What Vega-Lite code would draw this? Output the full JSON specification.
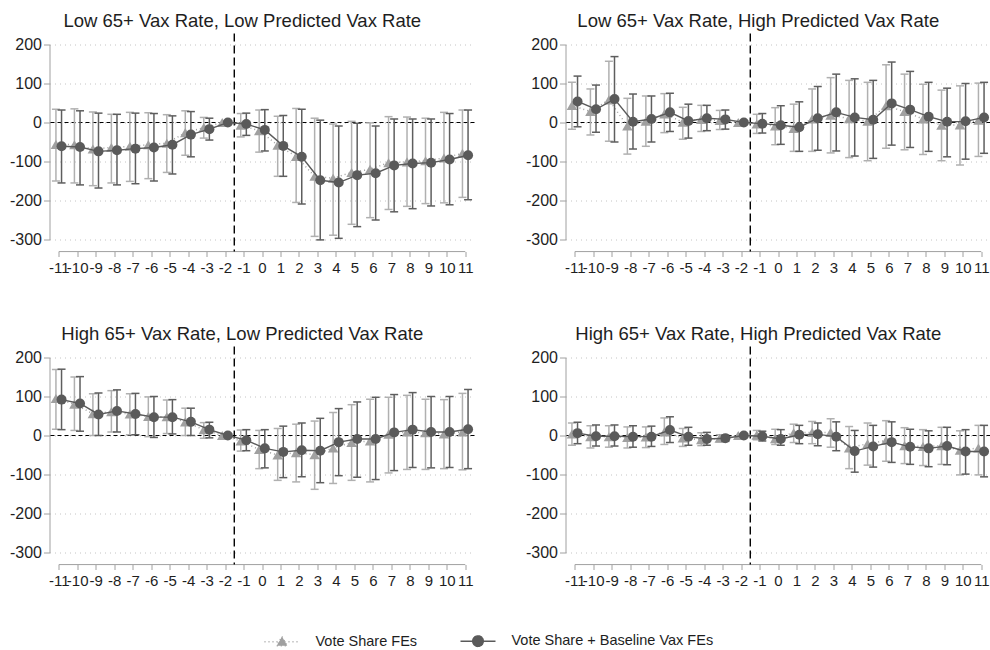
{
"$schema": "https://vega.github.io/schema/vega-lite/v6.json",
"padding": {"left": 8.5, "top": 11.5, "right": 0, "bottom": 0},
"config": {
 "locale": {"number": {"decimal": ".", "thousands": ",", "grouping": [3], "currency": ["$", ""], "minus": "-"}},
 "font": "Liberation Sans",
 "view": {"stroke": null},
 "axis": {"title": null, "labelFont": "Liberation Sans", "labelColor": "#1e1e1e", "domainColor": "#a0a0a0", "tickColor": "#a0a0a0", "domainWidth": 1, "tickWidth": 1, "labelOverlap": false},
 "axisY": {"grid": true, "gridDash": [1, 4], "gridColor": "#c4c4c4", "tickSize": 6, "labelPadding": 2, "labelFontSize": 16, "labelOverlap": false},
 "axisX": {"domain": false, "offset": 12, "tickSize": 5, "labelPadding": 3.5, "grid": false, "labelFontSize": 15, "labelOverlap": false, "labelFlush": false},
 "legend": {"orient": "none", "legendX": 214, "legendY": 578, "direction": "horizontal", "symbolSize": 1225, "labelLimit": 400, "labelFont": "Liberation Sans", "labelFontSize": 14.5, "labelColor": "#1e1e1e", "columnPadding": 40, "labelOffset": 15, "symbolStrokeWidth": 1.5, "symbolOpacity": 1},
 "title": {"fontSize": 18.5, "fontWeight": "normal", "color": "#1e1e1e", "font": "Liberation Sans", "frame": "bounds", "anchor": "middle", "offset": 2}
},
"datasets": {"d": [
{"p":1,"s":"B","t":-11,"e":-61,"lo":-155,"hi":32},{"p":1,"s":"B","t":-10,"e":-63,"lo":-160,"hi":30},{"p":1,"s":"B","t":-9,"e":-74,"lo":-168,"hi":24},{"p":1,"s":"B","t":-8,"e":-71,"lo":-160,"hi":21},{"p":1,"s":"B","t":-7,"e":-67,"lo":-157,"hi":24},{"p":1,"s":"B","t":-6,"e":-64,"lo":-150,"hi":23},{"p":1,"s":"B","t":-5,"e":-57,"lo":-132,"hi":17},{"p":1,"s":"B","t":-4,"e":-31,"lo":-88,"hi":28},{"p":1,"s":"B","t":-3,"e":-17,"lo":-45,"hi":11},{"p":1,"s":"B","t":-2,"e":0},{"p":1,"s":"B","t":-1,"e":-4,"lo":-33,"hi":24},{"p":1,"s":"B","t":0,"e":-19,"lo":-73,"hi":33},{"p":1,"s":"B","t":1,"e":-60,"lo":-138,"hi":18},{"p":1,"s":"B","t":2,"e":-88,"lo":-209,"hi":34},{"p":1,"s":"B","t":3,"e":-148,"lo":-301,"hi":6},{"p":1,"s":"B","t":4,"e":-154,"lo":-297,"hi":-9},{"p":1,"s":"B","t":5,"e":-135,"lo":-267,"hi":-2},{"p":1,"s":"B","t":6,"e":-130,"lo":-250,"hi":-9},{"p":1,"s":"B","t":7,"e":-110,"lo":-229,"hi":9},{"p":1,"s":"B","t":8,"e":-105,"lo":-221,"hi":9},{"p":1,"s":"B","t":9,"e":-103,"lo":-214,"hi":9},{"p":1,"s":"B","t":10,"e":-95,"lo":-211,"hi":23},{"p":1,"s":"B","t":11,"e":-84,"lo":-198,"hi":32},
{"p":1,"s":"A","t":-11,"e":-56,"lo":-150,"hi":34},{"p":1,"s":"A","t":-10,"e":-57,"lo":-155,"hi":35},{"p":1,"s":"A","t":-9,"e":-68,"lo":-162,"hi":27},{"p":1,"s":"A","t":-8,"e":-64,"lo":-155,"hi":21},{"p":1,"s":"A","t":-7,"e":-61,"lo":-151,"hi":26},{"p":1,"s":"A","t":-6,"e":-57,"lo":-144,"hi":25},{"p":1,"s":"A","t":-5,"e":-53,"lo":-128,"hi":20},{"p":1,"s":"A","t":-4,"e":-26,"lo":-84,"hi":30},{"p":1,"s":"A","t":-3,"e":-13,"lo":-40,"hi":13},{"p":1,"s":"A","t":-2,"e":0},{"p":1,"s":"A","t":-1,"e":-7,"lo":-37,"hi":23},{"p":1,"s":"A","t":0,"e":-21,"lo":-76,"hi":32},{"p":1,"s":"A","t":1,"e":-58,"lo":-138,"hi":16},{"p":1,"s":"A","t":2,"e":-87,"lo":-205,"hi":36},{"p":1,"s":"A","t":3,"e":-138,"lo":-292,"hi":11},{"p":1,"s":"A","t":4,"e":-143,"lo":-289,"hi":-4},{"p":1,"s":"A","t":5,"e":-128,"lo":-261,"hi":3},{"p":1,"s":"A","t":6,"e":-120,"lo":-244,"hi":-1},{"p":1,"s":"A","t":7,"e":-103,"lo":-223,"hi":15},{"p":1,"s":"A","t":8,"e":-101,"lo":-215,"hi":14},{"p":1,"s":"A","t":9,"e":-98,"lo":-208,"hi":11},{"p":1,"s":"A","t":10,"e":-91,"lo":-206,"hi":26},{"p":1,"s":"A","t":11,"e":-79,"lo":-192,"hi":32},
{"p":2,"s":"B","t":-11,"e":54,"lo":-11,"hi":119},{"p":2,"s":"B","t":-10,"e":34,"lo":-25,"hi":96},{"p":2,"s":"B","t":-9,"e":60,"lo":-50,"hi":169},{"p":2,"s":"B","t":-8,"e":2,"lo":-68,"hi":73},{"p":2,"s":"B","t":-7,"e":9,"lo":-50,"hi":68},{"p":2,"s":"B","t":-6,"e":26,"lo":-23,"hi":75},{"p":2,"s":"B","t":-5,"e":4,"lo":-40,"hi":47},{"p":2,"s":"B","t":-4,"e":11,"lo":-21,"hi":44},{"p":2,"s":"B","t":-3,"e":8,"lo":-17,"hi":32},{"p":2,"s":"B","t":-2,"e":0},{"p":2,"s":"B","t":-1,"e":-3,"lo":-27,"hi":23},{"p":2,"s":"B","t":0,"e":-7,"lo":-56,"hi":43},{"p":2,"s":"B","t":1,"e":-12,"lo":-74,"hi":53},{"p":2,"s":"B","t":2,"e":11,"lo":-71,"hi":92},{"p":2,"s":"B","t":3,"e":26,"lo":-73,"hi":124},{"p":2,"s":"B","t":4,"e":13,"lo":-86,"hi":112},{"p":2,"s":"B","t":5,"e":7,"lo":-92,"hi":108},{"p":2,"s":"B","t":6,"e":49,"lo":-58,"hi":155},{"p":2,"s":"B","t":7,"e":33,"lo":-64,"hi":131},{"p":2,"s":"B","t":8,"e":15,"lo":-74,"hi":103},{"p":2,"s":"B","t":9,"e":2,"lo":-88,"hi":88},{"p":2,"s":"B","t":10,"e":3,"lo":-94,"hi":100},{"p":2,"s":"B","t":11,"e":13,"lo":-79,"hi":103},
{"p":2,"s":"A","t":-11,"e":44,"lo":-17,"hi":103},{"p":2,"s":"A","t":-10,"e":28,"lo":-32,"hi":86},{"p":2,"s":"A","t":-9,"e":58,"lo":-48,"hi":157},{"p":2,"s":"A","t":-8,"e":-9,"lo":-81,"hi":62},{"p":2,"s":"A","t":-7,"e":3,"lo":-61,"hi":68},{"p":2,"s":"A","t":-6,"e":22,"lo":-26,"hi":74},{"p":2,"s":"A","t":-5,"e":1,"lo":-43,"hi":39},{"p":2,"s":"A","t":-4,"e":8,"lo":-23,"hi":44},{"p":2,"s":"A","t":-3,"e":5,"lo":-18,"hi":31},{"p":2,"s":"A","t":-2,"e":0},{"p":2,"s":"A","t":-1,"e":-4,"lo":-28,"hi":21},{"p":2,"s":"A","t":0,"e":-9,"lo":-57,"hi":38},{"p":2,"s":"A","t":1,"e":-15,"lo":-74,"hi":47},{"p":2,"s":"A","t":2,"e":9,"lo":-74,"hi":86},{"p":2,"s":"A","t":3,"e":19,"lo":-78,"hi":115},{"p":2,"s":"A","t":4,"e":10,"lo":-90,"hi":108},{"p":2,"s":"A","t":5,"e":3,"lo":-98,"hi":103},{"p":2,"s":"A","t":6,"e":43,"lo":-66,"hi":148},{"p":2,"s":"A","t":7,"e":28,"lo":-70,"hi":124},{"p":2,"s":"A","t":8,"e":9,"lo":-82,"hi":98},{"p":2,"s":"A","t":9,"e":-7,"lo":-98,"hi":83},{"p":2,"s":"A","t":10,"e":-6,"lo":-109,"hi":94},{"p":2,"s":"A","t":11,"e":6,"lo":-87,"hi":101},
{"p":3,"s":"B","t":-11,"e":92,"lo":15,"hi":170},{"p":3,"s":"B","t":-10,"e":82,"lo":11,"hi":151},{"p":3,"s":"B","t":-9,"e":54,"lo":0,"hi":109},{"p":3,"s":"B","t":-8,"e":63,"lo":9,"hi":117},{"p":3,"s":"B","t":-7,"e":55,"lo":2,"hi":108},{"p":3,"s":"B","t":-6,"e":47,"lo":-5,"hi":100},{"p":3,"s":"B","t":-5,"e":47,"lo":4,"hi":92},{"p":3,"s":"B","t":-4,"e":35,"lo":0,"hi":70},{"p":3,"s":"B","t":-3,"e":15,"lo":-6,"hi":34},{"p":3,"s":"B","t":-2,"e":0},{"p":3,"s":"B","t":-1,"e":-12,"lo":-39,"hi":15},{"p":3,"s":"B","t":0,"e":-33,"lo":-83,"hi":15},{"p":3,"s":"B","t":1,"e":-42,"lo":-108,"hi":24},{"p":3,"s":"B","t":2,"e":-38,"lo":-106,"hi":32},{"p":3,"s":"B","t":3,"e":-39,"lo":-121,"hi":44},{"p":3,"s":"B","t":4,"e":-17,"lo":-103,"hi":69},{"p":3,"s":"B","t":5,"e":-9,"lo":-107,"hi":86},{"p":3,"s":"B","t":6,"e":-9,"lo":-113,"hi":98},{"p":3,"s":"B","t":7,"e":8,"lo":-90,"hi":105},{"p":3,"s":"B","t":8,"e":15,"lo":-82,"hi":110},{"p":3,"s":"B","t":9,"e":9,"lo":-83,"hi":100},{"p":3,"s":"B","t":10,"e":9,"lo":-82,"hi":100},{"p":3,"s":"B","t":11,"e":16,"lo":-85,"hi":118},
{"p":3,"s":"A","t":-11,"e":95,"lo":16,"hi":169},{"p":3,"s":"A","t":-10,"e":80,"lo":13,"hi":150},{"p":3,"s":"A","t":-9,"e":56,"lo":0,"hi":107},{"p":3,"s":"A","t":-8,"e":61,"lo":9,"hi":115},{"p":3,"s":"A","t":-7,"e":55,"lo":2,"hi":107},{"p":3,"s":"A","t":-6,"e":49,"lo":-3,"hi":99},{"p":3,"s":"A","t":-5,"e":48,"lo":5,"hi":91},{"p":3,"s":"A","t":-4,"e":35,"lo":0,"hi":70},{"p":3,"s":"A","t":-3,"e":15,"lo":-7,"hi":33},{"p":3,"s":"A","t":-2,"e":0},{"p":3,"s":"A","t":-1,"e":-14,"lo":-40,"hi":14},{"p":3,"s":"A","t":0,"e":-36,"lo":-85,"hi":13},{"p":3,"s":"A","t":1,"e":-50,"lo":-115,"hi":18},{"p":3,"s":"A","t":2,"e":-44,"lo":-119,"hi":29},{"p":3,"s":"A","t":3,"e":-49,"lo":-138,"hi":37},{"p":3,"s":"A","t":4,"e":-32,"lo":-123,"hi":59},{"p":3,"s":"A","t":5,"e":-18,"lo":-115,"hi":79},{"p":3,"s":"A","t":6,"e":-14,"lo":-119,"hi":93},{"p":3,"s":"A","t":7,"e":3,"lo":-96,"hi":98},{"p":3,"s":"A","t":8,"e":9,"lo":-87,"hi":103},{"p":3,"s":"A","t":9,"e":7,"lo":-87,"hi":93},{"p":3,"s":"A","t":10,"e":4,"lo":-85,"hi":92},{"p":3,"s":"A","t":11,"e":9,"lo":-88,"hi":108},
{"p":4,"s":"B","t":-11,"e":6,"lo":-21,"hi":34},{"p":4,"s":"B","t":-10,"e":-2,"lo":-27,"hi":27},{"p":4,"s":"B","t":-9,"e":-2,"lo":-27,"hi":27},{"p":4,"s":"B","t":-8,"e":-3,"lo":-30,"hi":25},{"p":4,"s":"B","t":-7,"e":-3,"lo":-28,"hi":24},{"p":4,"s":"B","t":-6,"e":14,"lo":-18,"hi":48},{"p":4,"s":"B","t":-5,"e":-3,"lo":-25,"hi":21},{"p":4,"s":"B","t":-4,"e":-9,"lo":-25,"hi":8},{"p":4,"s":"B","t":-3,"e":-7,"lo":-15,"hi":1},{"p":4,"s":"B","t":-2,"e":0},{"p":4,"s":"B","t":-1,"e":-2,"lo":-14,"hi":11},{"p":4,"s":"B","t":0,"e":-9,"lo":-25,"hi":15},{"p":4,"s":"B","t":1,"e":2,"lo":-21,"hi":26},{"p":4,"s":"B","t":2,"e":3,"lo":-26,"hi":32},{"p":4,"s":"B","t":3,"e":-3,"lo":-39,"hi":35},{"p":4,"s":"B","t":4,"e":-40,"lo":-94,"hi":13},{"p":4,"s":"B","t":5,"e":-28,"lo":-81,"hi":26},{"p":4,"s":"B","t":6,"e":-17,"lo":-69,"hi":35},{"p":4,"s":"B","t":7,"e":-29,"lo":-74,"hi":16},{"p":4,"s":"B","t":8,"e":-33,"lo":-80,"hi":12},{"p":4,"s":"B","t":9,"e":-27,"lo":-75,"hi":21},{"p":4,"s":"B","t":10,"e":-41,"lo":-99,"hi":15},{"p":4,"s":"B","t":11,"e":-41,"lo":-106,"hi":26},
{"p":4,"s":"A","t":-11,"e":4,"lo":-25,"hi":32},{"p":4,"s":"A","t":-10,"e":-3,"lo":-32,"hi":25},{"p":4,"s":"A","t":-9,"e":-3,"lo":-30,"hi":25},{"p":4,"s":"A","t":-8,"e":-5,"lo":-32,"hi":22},{"p":4,"s":"A","t":-7,"e":-4,"lo":-31,"hi":22},{"p":4,"s":"A","t":-6,"e":9,"lo":-23,"hi":45},{"p":4,"s":"A","t":-5,"e":-6,"lo":-28,"hi":18},{"p":4,"s":"A","t":-4,"e":-11,"lo":-26,"hi":7},{"p":4,"s":"A","t":-3,"e":-7,"lo":-16,"hi":2},{"p":4,"s":"A","t":-2,"e":0},{"p":4,"s":"A","t":-1,"e":1,"lo":-11,"hi":13},{"p":4,"s":"A","t":0,"e":-8,"lo":-23,"hi":16},{"p":4,"s":"A","t":1,"e":7,"lo":-18,"hi":29},{"p":4,"s":"A","t":2,"e":8,"lo":-21,"hi":36},{"p":4,"s":"A","t":3,"e":8,"lo":-30,"hi":43},{"p":4,"s":"A","t":4,"e":-32,"lo":-85,"hi":23},{"p":4,"s":"A","t":5,"e":-21,"lo":-76,"hi":32},{"p":4,"s":"A","t":6,"e":-13,"lo":-66,"hi":38},{"p":4,"s":"A","t":7,"e":-26,"lo":-72,"hi":20},{"p":4,"s":"A","t":8,"e":-28,"lo":-77,"hi":15},{"p":4,"s":"A","t":9,"e":-26,"lo":-74,"hi":21},{"p":4,"s":"A","t":10,"e":-38,"lo":-101,"hi":12},{"p":4,"s":"A","t":11,"e":-32,"lo":-101,"hi":26}
]},
"columns": 2,
"spacing": {"row": 49, "column": 49},
"concat": [
{"title": "Low 65+ Vax Rate, Low Predicted Vax Rate", "width": 425, "height": 195,
 "layer": [
  {"data": {"values": [{}]}, "mark": {"type": "rule", "color": "#000000", "strokeDash": [4, 3], "strokeWidth": 1.1}, "encoding": {"y": {"datum": 0, "type": "quantitative", "scale": {"domain": [-300, 200], "nice": false, "zero": false}, "axis": {"values": [-300, -200, -100, 0, 100, 200], "labelOverlap": false}}}},
  {"data": {"values": [{}]}, "mark": {"type": "rule", "color": "#a0a0a0", "strokeWidth": 1}, "encoding": {"x": {"datum": -11, "type": "quantitative", "scale": {"domain": [-11.5, 11.5], "nice": false, "zero": false}, "axis": {"values": [-11,-10,-9,-8,-7,-6,-5,-4,-3,-2,-1,0,1,2,3,4,5,6,7,8,9,10,11], "labelOverlap": false, "labelFlush": false}}, "x2": {"datum": 11}, "y": {"datum": -331, "type": "quantitative", "axis": {"values": [-300, -200, -100, 0, 100, 200], "labelOverlap": false}}}},
  {"data": {"values": [{}]}, "mark": {"type": "rule", "color": "#000000", "strokeDash": [8, 4], "strokeWidth": 1.4}, "encoding": {"x": {"datum": -1.5, "type": "quantitative", "axis": {"values": [-11,-10,-9,-8,-7,-6,-5,-4,-3,-2,-1,0,1,2,3,4,5,6,7,8,9,10,11], "labelOverlap": false, "labelFlush": false}}, "y": {"datum": 228, "type": "quantitative", "axis": {"values": [-300, -200, -100, 0, 100, 200], "labelOverlap": false}}, "y2": {"datum": -331}}},
  {"data": {"values": [{"s": "A"}, {"s": "B"}]}, "mark": {"type": "point", "filled": true, "opacity": 0, "strokeWidth": 1.5}, "encoding": {"x": {"datum": 0, "type": "quantitative", "axis": {"values": [-11,-10,-9,-8,-7,-6,-5,-4,-3,-2,-1,0,1,2,3,4,5,6,7,8,9,10,11], "labelOverlap": false, "labelFlush": false}}, "y": {"datum": 0, "type": "quantitative", "axis": {"values": [-300, -200, -100, 0, 100, 200], "labelOverlap": false}},
    "color": {"field": "s", "type": "nominal", "scale": {"domain": ["A", "B"], "range": ["#a0a0a0", "#5a5a5a"]}, "legend": {"title": null, "labelExpr": "datum.value == 'A' ? 'Vote Share FEs' : 'Vote Share + Baseline Vax FEs'"}},
    "stroke": {"field": "s", "type": "nominal", "scale": {"domain": ["A", "B"], "range": ["#a0a0a0", "#5a5a5a"]}, "legend": {"title": null, "labelExpr": "datum.value == 'A' ? 'Vote Share FEs' : 'Vote Share + Baseline Vax FEs'"}},
    "shape": {"field": "s", "type": "nominal", "scale": {"domain": ["A", "B"], "range": ["M-1,0H1M-0.3,0.22L0.3,0.22L0,-0.3Z", "M-1,0H1M0.3,0A0.3,0.3,0,1,1,-0.3,0A0.3,0.3,0,1,1,0.3,0Z"]}, "legend": {"title": null, "labelExpr": "datum.value == 'A' ? 'Vote Share FEs' : 'Vote Share + Baseline Vax FEs'"}},
    "strokeDash": {"field": "s", "type": "nominal", "scale": {"domain": ["A", "B"], "range": [[1, 3], [1, 0]]}, "legend": {"title": null, "labelExpr": "datum.value == 'A' ? 'Vote Share FEs' : 'Vote Share + Baseline Vax FEs'"}}}},
  {"data": {"name": "d"}, "transform": [{"filter": "datum.p==1 && datum.s=='A' && isValid(datum.lo)"}], "mark": {"type": "rule", "color": "#b0b0b0", "strokeWidth": 1.5, "xOffset": -2.8}, "encoding": {"x": {"field": "t", "type": "quantitative", "axis": {"values": [-11,-10,-9,-8,-7,-6,-5,-4,-3,-2,-1,0,1,2,3,4,5,6,7,8,9,10,11], "labelOverlap": false, "labelFlush": false}}, "y": {"field": "lo", "type": "quantitative", "axis": {"values": [-300, -200, -100, 0, 100, 200], "labelOverlap": false}}, "y2": {"field": "hi"}}},
  {"data": {"name": "d"}, "transform": [{"filter": "datum.p==1 && datum.s=='A' && isValid(datum.lo)"}], "mark": {"type": "tick", "orient": "horizontal", "size": 8, "thickness": 1.5, "color": "#b0b0b0", "opacity": 1, "xOffset": -2.8}, "encoding": {"x": {"field": "t", "type": "quantitative", "axis": {"values": [-11,-10,-9,-8,-7,-6,-5,-4,-3,-2,-1,0,1,2,3,4,5,6,7,8,9,10,11], "labelOverlap": false, "labelFlush": false}}, "y": {"field": "lo", "type": "quantitative", "axis": {"values": [-300, -200, -100, 0, 100, 200], "labelOverlap": false}}}},
  {"data": {"name": "d"}, "transform": [{"filter": "datum.p==1 && datum.s=='A' && isValid(datum.lo)"}], "mark": {"type": "tick", "orient": "horizontal", "size": 8, "thickness": 1.5, "color": "#b0b0b0", "opacity": 1, "xOffset": -2.8}, "encoding": {"x": {"field": "t", "type": "quantitative", "axis": {"values": [-11,-10,-9,-8,-7,-6,-5,-4,-3,-2,-1,0,1,2,3,4,5,6,7,8,9,10,11], "labelOverlap": false, "labelFlush": false}}, "y": {"field": "hi", "type": "quantitative", "axis": {"values": [-300, -200, -100, 0, 100, 200], "labelOverlap": false}}}},
  {"data": {"name": "d"}, "transform": [{"filter": "datum.p==1 && datum.s=='A'"}], "mark": {"type": "line", "color": "#a0a0a0", "strokeDash": [1, 3], "strokeWidth": 1.5, "xOffset": -2.8}, "encoding": {"x": {"field": "t", "type": "quantitative", "axis": {"values": [-11,-10,-9,-8,-7,-6,-5,-4,-3,-2,-1,0,1,2,3,4,5,6,7,8,9,10,11], "labelOverlap": false, "labelFlush": false}}, "y": {"field": "e", "type": "quantitative", "axis": {"values": [-300, -200, -100, 0, 100, 200], "labelOverlap": false}}}},
  {"data": {"name": "d"}, "transform": [{"filter": "datum.p==1 && datum.s=='A'"}], "mark": {"type": "point", "shape": "triangle-up", "filled": true, "size": 110, "opacity": 1, "color": "#a0a0a0", "xOffset": -2.8}, "encoding": {"x": {"field": "t", "type": "quantitative", "axis": {"values": [-11,-10,-9,-8,-7,-6,-5,-4,-3,-2,-1,0,1,2,3,4,5,6,7,8,9,10,11], "labelOverlap": false, "labelFlush": false}}, "y": {"field": "e", "type": "quantitative", "axis": {"values": [-300, -200, -100, 0, 100, 200], "labelOverlap": false}}}},
  {"data": {"name": "d"}, "transform": [{"filter": "datum.p==1 && datum.s=='B' && isValid(datum.lo)"}], "mark": {"type": "rule", "color": "#5e5e5e", "strokeWidth": 1.5, "xOffset": 2.8}, "encoding": {"x": {"field": "t", "type": "quantitative", "axis": {"values": [-11,-10,-9,-8,-7,-6,-5,-4,-3,-2,-1,0,1,2,3,4,5,6,7,8,9,10,11], "labelOverlap": false, "labelFlush": false}}, "y": {"field": "lo", "type": "quantitative", "axis": {"values": [-300, -200, -100, 0, 100, 200], "labelOverlap": false}}, "y2": {"field": "hi"}}},
  {"data": {"name": "d"}, "transform": [{"filter": "datum.p==1 && datum.s=='B' && isValid(datum.lo)"}], "mark": {"type": "tick", "orient": "horizontal", "size": 8, "thickness": 1.5, "color": "#5e5e5e", "opacity": 1, "xOffset": 2.8}, "encoding": {"x": {"field": "t", "type": "quantitative", "axis": {"values": [-11,-10,-9,-8,-7,-6,-5,-4,-3,-2,-1,0,1,2,3,4,5,6,7,8,9,10,11], "labelOverlap": false, "labelFlush": false}}, "y": {"field": "lo", "type": "quantitative", "axis": {"values": [-300, -200, -100, 0, 100, 200], "labelOverlap": false}}}},
  {"data": {"name": "d"}, "transform": [{"filter": "datum.p==1 && datum.s=='B' && isValid(datum.lo)"}], "mark": {"type": "tick", "orient": "horizontal", "size": 8, "thickness": 1.5, "color": "#5e5e5e", "opacity": 1, "xOffset": 2.8}, "encoding": {"x": {"field": "t", "type": "quantitative", "axis": {"values": [-11,-10,-9,-8,-7,-6,-5,-4,-3,-2,-1,0,1,2,3,4,5,6,7,8,9,10,11], "labelOverlap": false, "labelFlush": false}}, "y": {"field": "hi", "type": "quantitative", "axis": {"values": [-300, -200, -100, 0, 100, 200], "labelOverlap": false}}}},
  {"data": {"name": "d"}, "transform": [{"filter": "datum.p==1 && datum.s=='B'"}], "mark": {"type": "line", "color": "#5a5a5a", "strokeWidth": 1.4, "xOffset": 2.8}, "encoding": {"x": {"field": "t", "type": "quantitative", "axis": {"values": [-11,-10,-9,-8,-7,-6,-5,-4,-3,-2,-1,0,1,2,3,4,5,6,7,8,9,10,11], "labelOverlap": false, "labelFlush": false}}, "y": {"field": "e", "type": "quantitative", "axis": {"values": [-300, -200, -100, 0, 100, 200], "labelOverlap": false}}}},
  {"data": {"name": "d"}, "transform": [{"filter": "datum.p==1 && datum.s=='B'"}], "mark": {"type": "point", "shape": "circle", "filled": true, "size": 100, "opacity": 1, "color": "#5a5a5a", "xOffset": 2.8}, "encoding": {"x": {"field": "t", "type": "quantitative", "axis": {"values": [-11,-10,-9,-8,-7,-6,-5,-4,-3,-2,-1,0,1,2,3,4,5,6,7,8,9,10,11], "labelOverlap": false, "labelFlush": false}}, "y": {"field": "e", "type": "quantitative", "axis": {"values": [-300, -200, -100, 0, 100, 200], "labelOverlap": false}}}}
 ]},
{"title": "Low 65+ Vax Rate, High Predicted Vax Rate", "width": 425, "height": 195,
 "layer": [
  {"data": {"values": [{}]}, "mark": {"type": "rule", "color": "#000000", "strokeDash": [4, 3], "strokeWidth": 1.1}, "encoding": {"y": {"datum": 0, "type": "quantitative", "scale": {"domain": [-300, 200], "nice": false, "zero": false}, "axis": {"values": [-300, -200, -100, 0, 100, 200], "labelOverlap": false}}}},
  {"data": {"values": [{}]}, "mark": {"type": "rule", "color": "#a0a0a0", "strokeWidth": 1}, "encoding": {"x": {"datum": -11, "type": "quantitative", "scale": {"domain": [-11.5, 11.5], "nice": false, "zero": false}, "axis": {"values": [-11,-10,-9,-8,-7,-6,-5,-4,-3,-2,-1,0,1,2,3,4,5,6,7,8,9,10,11], "labelOverlap": false, "labelFlush": false}}, "x2": {"datum": 11}, "y": {"datum": -331, "type": "quantitative", "axis": {"values": [-300, -200, -100, 0, 100, 200], "labelOverlap": false}}}},
  {"data": {"values": [{}]}, "mark": {"type": "rule", "color": "#000000", "strokeDash": [8, 4], "strokeWidth": 1.4}, "encoding": {"x": {"datum": -1.5, "type": "quantitative", "axis": {"values": [-11,-10,-9,-8,-7,-6,-5,-4,-3,-2,-1,0,1,2,3,4,5,6,7,8,9,10,11], "labelOverlap": false, "labelFlush": false}}, "y": {"datum": 228, "type": "quantitative", "axis": {"values": [-300, -200, -100, 0, 100, 200], "labelOverlap": false}}, "y2": {"datum": -331}}},
  {"data": {"name": "d"}, "transform": [{"filter": "datum.p==2 && datum.s=='A' && isValid(datum.lo)"}], "mark": {"type": "rule", "color": "#b0b0b0", "strokeWidth": 1.5, "xOffset": -2.8}, "encoding": {"x": {"field": "t", "type": "quantitative", "axis": {"values": [-11,-10,-9,-8,-7,-6,-5,-4,-3,-2,-1,0,1,2,3,4,5,6,7,8,9,10,11], "labelOverlap": false, "labelFlush": false}}, "y": {"field": "lo", "type": "quantitative", "axis": {"values": [-300, -200, -100, 0, 100, 200], "labelOverlap": false}}, "y2": {"field": "hi"}}},
  {"data": {"name": "d"}, "transform": [{"filter": "datum.p==2 && datum.s=='A' && isValid(datum.lo)"}], "mark": {"type": "tick", "orient": "horizontal", "size": 8, "thickness": 1.5, "color": "#b0b0b0", "opacity": 1, "xOffset": -2.8}, "encoding": {"x": {"field": "t", "type": "quantitative", "axis": {"values": [-11,-10,-9,-8,-7,-6,-5,-4,-3,-2,-1,0,1,2,3,4,5,6,7,8,9,10,11], "labelOverlap": false, "labelFlush": false}}, "y": {"field": "lo", "type": "quantitative", "axis": {"values": [-300, -200, -100, 0, 100, 200], "labelOverlap": false}}}},
  {"data": {"name": "d"}, "transform": [{"filter": "datum.p==2 && datum.s=='A' && isValid(datum.lo)"}], "mark": {"type": "tick", "orient": "horizontal", "size": 8, "thickness": 1.5, "color": "#b0b0b0", "opacity": 1, "xOffset": -2.8}, "encoding": {"x": {"field": "t", "type": "quantitative", "axis": {"values": [-11,-10,-9,-8,-7,-6,-5,-4,-3,-2,-1,0,1,2,3,4,5,6,7,8,9,10,11], "labelOverlap": false, "labelFlush": false}}, "y": {"field": "hi", "type": "quantitative", "axis": {"values": [-300, -200, -100, 0, 100, 200], "labelOverlap": false}}}},
  {"data": {"name": "d"}, "transform": [{"filter": "datum.p==2 && datum.s=='A'"}], "mark": {"type": "line", "color": "#a0a0a0", "strokeDash": [1, 3], "strokeWidth": 1.5, "xOffset": -2.8}, "encoding": {"x": {"field": "t", "type": "quantitative", "axis": {"values": [-11,-10,-9,-8,-7,-6,-5,-4,-3,-2,-1,0,1,2,3,4,5,6,7,8,9,10,11], "labelOverlap": false, "labelFlush": false}}, "y": {"field": "e", "type": "quantitative", "axis": {"values": [-300, -200, -100, 0, 100, 200], "labelOverlap": false}}}},
  {"data": {"name": "d"}, "transform": [{"filter": "datum.p==2 && datum.s=='A'"}], "mark": {"type": "point", "shape": "triangle-up", "filled": true, "size": 110, "opacity": 1, "color": "#a0a0a0", "xOffset": -2.8}, "encoding": {"x": {"field": "t", "type": "quantitative", "axis": {"values": [-11,-10,-9,-8,-7,-6,-5,-4,-3,-2,-1,0,1,2,3,4,5,6,7,8,9,10,11], "labelOverlap": false, "labelFlush": false}}, "y": {"field": "e", "type": "quantitative", "axis": {"values": [-300, -200, -100, 0, 100, 200], "labelOverlap": false}}}},
  {"data": {"name": "d"}, "transform": [{"filter": "datum.p==2 && datum.s=='B' && isValid(datum.lo)"}], "mark": {"type": "rule", "color": "#5e5e5e", "strokeWidth": 1.5, "xOffset": 2.8}, "encoding": {"x": {"field": "t", "type": "quantitative", "axis": {"values": [-11,-10,-9,-8,-7,-6,-5,-4,-3,-2,-1,0,1,2,3,4,5,6,7,8,9,10,11], "labelOverlap": false, "labelFlush": false}}, "y": {"field": "lo", "type": "quantitative", "axis": {"values": [-300, -200, -100, 0, 100, 200], "labelOverlap": false}}, "y2": {"field": "hi"}}},
  {"data": {"name": "d"}, "transform": [{"filter": "datum.p==2 && datum.s=='B' && isValid(datum.lo)"}], "mark": {"type": "tick", "orient": "horizontal", "size": 8, "thickness": 1.5, "color": "#5e5e5e", "opacity": 1, "xOffset": 2.8}, "encoding": {"x": {"field": "t", "type": "quantitative", "axis": {"values": [-11,-10,-9,-8,-7,-6,-5,-4,-3,-2,-1,0,1,2,3,4,5,6,7,8,9,10,11], "labelOverlap": false, "labelFlush": false}}, "y": {"field": "lo", "type": "quantitative", "axis": {"values": [-300, -200, -100, 0, 100, 200], "labelOverlap": false}}}},
  {"data": {"name": "d"}, "transform": [{"filter": "datum.p==2 && datum.s=='B' && isValid(datum.lo)"}], "mark": {"type": "tick", "orient": "horizontal", "size": 8, "thickness": 1.5, "color": "#5e5e5e", "opacity": 1, "xOffset": 2.8}, "encoding": {"x": {"field": "t", "type": "quantitative", "axis": {"values": [-11,-10,-9,-8,-7,-6,-5,-4,-3,-2,-1,0,1,2,3,4,5,6,7,8,9,10,11], "labelOverlap": false, "labelFlush": false}}, "y": {"field": "hi", "type": "quantitative", "axis": {"values": [-300, -200, -100, 0, 100, 200], "labelOverlap": false}}}},
  {"data": {"name": "d"}, "transform": [{"filter": "datum.p==2 && datum.s=='B'"}], "mark": {"type": "line", "color": "#5a5a5a", "strokeWidth": 1.4, "xOffset": 2.8}, "encoding": {"x": {"field": "t", "type": "quantitative", "axis": {"values": [-11,-10,-9,-8,-7,-6,-5,-4,-3,-2,-1,0,1,2,3,4,5,6,7,8,9,10,11], "labelOverlap": false, "labelFlush": false}}, "y": {"field": "e", "type": "quantitative", "axis": {"values": [-300, -200, -100, 0, 100, 200], "labelOverlap": false}}}},
  {"data": {"name": "d"}, "transform": [{"filter": "datum.p==2 && datum.s=='B'"}], "mark": {"type": "point", "shape": "circle", "filled": true, "size": 100, "opacity": 1, "color": "#5a5a5a", "xOffset": 2.8}, "encoding": {"x": {"field": "t", "type": "quantitative", "axis": {"values": [-11,-10,-9,-8,-7,-6,-5,-4,-3,-2,-1,0,1,2,3,4,5,6,7,8,9,10,11], "labelOverlap": false, "labelFlush": false}}, "y": {"field": "e", "type": "quantitative", "axis": {"values": [-300, -200, -100, 0, 100, 200], "labelOverlap": false}}}}
 ]},
{"title": "High 65+ Vax Rate, Low Predicted Vax Rate", "width": 425, "height": 195,
 "layer": [
  {"data": {"values": [{}]}, "mark": {"type": "rule", "color": "#000000", "strokeDash": [4, 3], "strokeWidth": 1.1}, "encoding": {"y": {"datum": 0, "type": "quantitative", "scale": {"domain": [-300, 200], "nice": false, "zero": false}, "axis": {"values": [-300, -200, -100, 0, 100, 200], "labelOverlap": false}}}},
  {"data": {"values": [{}]}, "mark": {"type": "rule", "color": "#a0a0a0", "strokeWidth": 1}, "encoding": {"x": {"datum": -11, "type": "quantitative", "scale": {"domain": [-11.5, 11.5], "nice": false, "zero": false}, "axis": {"values": [-11,-10,-9,-8,-7,-6,-5,-4,-3,-2,-1,0,1,2,3,4,5,6,7,8,9,10,11], "labelOverlap": false, "labelFlush": false}}, "x2": {"datum": 11}, "y": {"datum": -331, "type": "quantitative", "axis": {"values": [-300, -200, -100, 0, 100, 200], "labelOverlap": false}}}},
  {"data": {"values": [{}]}, "mark": {"type": "rule", "color": "#000000", "strokeDash": [8, 4], "strokeWidth": 1.4}, "encoding": {"x": {"datum": -1.5, "type": "quantitative", "axis": {"values": [-11,-10,-9,-8,-7,-6,-5,-4,-3,-2,-1,0,1,2,3,4,5,6,7,8,9,10,11], "labelOverlap": false, "labelFlush": false}}, "y": {"datum": 228, "type": "quantitative", "axis": {"values": [-300, -200, -100, 0, 100, 200], "labelOverlap": false}}, "y2": {"datum": -331}}},
  {"data": {"name": "d"}, "transform": [{"filter": "datum.p==3 && datum.s=='A' && isValid(datum.lo)"}], "mark": {"type": "rule", "color": "#b0b0b0", "strokeWidth": 1.5, "xOffset": -2.8}, "encoding": {"x": {"field": "t", "type": "quantitative", "axis": {"values": [-11,-10,-9,-8,-7,-6,-5,-4,-3,-2,-1,0,1,2,3,4,5,6,7,8,9,10,11], "labelOverlap": false, "labelFlush": false}}, "y": {"field": "lo", "type": "quantitative", "axis": {"values": [-300, -200, -100, 0, 100, 200], "labelOverlap": false}}, "y2": {"field": "hi"}}},
  {"data": {"name": "d"}, "transform": [{"filter": "datum.p==3 && datum.s=='A' && isValid(datum.lo)"}], "mark": {"type": "tick", "orient": "horizontal", "size": 8, "thickness": 1.5, "color": "#b0b0b0", "opacity": 1, "xOffset": -2.8}, "encoding": {"x": {"field": "t", "type": "quantitative", "axis": {"values": [-11,-10,-9,-8,-7,-6,-5,-4,-3,-2,-1,0,1,2,3,4,5,6,7,8,9,10,11], "labelOverlap": false, "labelFlush": false}}, "y": {"field": "lo", "type": "quantitative", "axis": {"values": [-300, -200, -100, 0, 100, 200], "labelOverlap": false}}}},
  {"data": {"name": "d"}, "transform": [{"filter": "datum.p==3 && datum.s=='A' && isValid(datum.lo)"}], "mark": {"type": "tick", "orient": "horizontal", "size": 8, "thickness": 1.5, "color": "#b0b0b0", "opacity": 1, "xOffset": -2.8}, "encoding": {"x": {"field": "t", "type": "quantitative", "axis": {"values": [-11,-10,-9,-8,-7,-6,-5,-4,-3,-2,-1,0,1,2,3,4,5,6,7,8,9,10,11], "labelOverlap": false, "labelFlush": false}}, "y": {"field": "hi", "type": "quantitative", "axis": {"values": [-300, -200, -100, 0, 100, 200], "labelOverlap": false}}}},
  {"data": {"name": "d"}, "transform": [{"filter": "datum.p==3 && datum.s=='A'"}], "mark": {"type": "line", "color": "#a0a0a0", "strokeDash": [1, 3], "strokeWidth": 1.5, "xOffset": -2.8}, "encoding": {"x": {"field": "t", "type": "quantitative", "axis": {"values": [-11,-10,-9,-8,-7,-6,-5,-4,-3,-2,-1,0,1,2,3,4,5,6,7,8,9,10,11], "labelOverlap": false, "labelFlush": false}}, "y": {"field": "e", "type": "quantitative", "axis": {"values": [-300, -200, -100, 0, 100, 200], "labelOverlap": false}}}},
  {"data": {"name": "d"}, "transform": [{"filter": "datum.p==3 && datum.s=='A'"}], "mark": {"type": "point", "shape": "triangle-up", "filled": true, "size": 110, "opacity": 1, "color": "#a0a0a0", "xOffset": -2.8}, "encoding": {"x": {"field": "t", "type": "quantitative", "axis": {"values": [-11,-10,-9,-8,-7,-6,-5,-4,-3,-2,-1,0,1,2,3,4,5,6,7,8,9,10,11], "labelOverlap": false, "labelFlush": false}}, "y": {"field": "e", "type": "quantitative", "axis": {"values": [-300, -200, -100, 0, 100, 200], "labelOverlap": false}}}},
  {"data": {"name": "d"}, "transform": [{"filter": "datum.p==3 && datum.s=='B' && isValid(datum.lo)"}], "mark": {"type": "rule", "color": "#5e5e5e", "strokeWidth": 1.5, "xOffset": 2.8}, "encoding": {"x": {"field": "t", "type": "quantitative", "axis": {"values": [-11,-10,-9,-8,-7,-6,-5,-4,-3,-2,-1,0,1,2,3,4,5,6,7,8,9,10,11], "labelOverlap": false, "labelFlush": false}}, "y": {"field": "lo", "type": "quantitative", "axis": {"values": [-300, -200, -100, 0, 100, 200], "labelOverlap": false}}, "y2": {"field": "hi"}}},
  {"data": {"name": "d"}, "transform": [{"filter": "datum.p==3 && datum.s=='B' && isValid(datum.lo)"}], "mark": {"type": "tick", "orient": "horizontal", "size": 8, "thickness": 1.5, "color": "#5e5e5e", "opacity": 1, "xOffset": 2.8}, "encoding": {"x": {"field": "t", "type": "quantitative", "axis": {"values": [-11,-10,-9,-8,-7,-6,-5,-4,-3,-2,-1,0,1,2,3,4,5,6,7,8,9,10,11], "labelOverlap": false, "labelFlush": false}}, "y": {"field": "lo", "type": "quantitative", "axis": {"values": [-300, -200, -100, 0, 100, 200], "labelOverlap": false}}}},
  {"data": {"name": "d"}, "transform": [{"filter": "datum.p==3 && datum.s=='B' && isValid(datum.lo)"}], "mark": {"type": "tick", "orient": "horizontal", "size": 8, "thickness": 1.5, "color": "#5e5e5e", "opacity": 1, "xOffset": 2.8}, "encoding": {"x": {"field": "t", "type": "quantitative", "axis": {"values": [-11,-10,-9,-8,-7,-6,-5,-4,-3,-2,-1,0,1,2,3,4,5,6,7,8,9,10,11], "labelOverlap": false, "labelFlush": false}}, "y": {"field": "hi", "type": "quantitative", "axis": {"values": [-300, -200, -100, 0, 100, 200], "labelOverlap": false}}}},
  {"data": {"name": "d"}, "transform": [{"filter": "datum.p==3 && datum.s=='B'"}], "mark": {"type": "line", "color": "#5a5a5a", "strokeWidth": 1.4, "xOffset": 2.8}, "encoding": {"x": {"field": "t", "type": "quantitative", "axis": {"values": [-11,-10,-9,-8,-7,-6,-5,-4,-3,-2,-1,0,1,2,3,4,5,6,7,8,9,10,11], "labelOverlap": false, "labelFlush": false}}, "y": {"field": "e", "type": "quantitative", "axis": {"values": [-300, -200, -100, 0, 100, 200], "labelOverlap": false}}}},
  {"data": {"name": "d"}, "transform": [{"filter": "datum.p==3 && datum.s=='B'"}], "mark": {"type": "point", "shape": "circle", "filled": true, "size": 100, "opacity": 1, "color": "#5a5a5a", "xOffset": 2.8}, "encoding": {"x": {"field": "t", "type": "quantitative", "axis": {"values": [-11,-10,-9,-8,-7,-6,-5,-4,-3,-2,-1,0,1,2,3,4,5,6,7,8,9,10,11], "labelOverlap": false, "labelFlush": false}}, "y": {"field": "e", "type": "quantitative", "axis": {"values": [-300, -200, -100, 0, 100, 200], "labelOverlap": false}}}}
 ]},
{"title": "High 65+ Vax Rate, High Predicted Vax Rate", "width": 425, "height": 195,
 "layer": [
  {"data": {"values": [{}]}, "mark": {"type": "rule", "color": "#000000", "strokeDash": [4, 3], "strokeWidth": 1.1}, "encoding": {"y": {"datum": 0, "type": "quantitative", "scale": {"domain": [-300, 200], "nice": false, "zero": false}, "axis": {"values": [-300, -200, -100, 0, 100, 200], "labelOverlap": false}}}},
  {"data": {"values": [{}]}, "mark": {"type": "rule", "color": "#a0a0a0", "strokeWidth": 1}, "encoding": {"x": {"datum": -11, "type": "quantitative", "scale": {"domain": [-11.5, 11.5], "nice": false, "zero": false}, "axis": {"values": [-11,-10,-9,-8,-7,-6,-5,-4,-3,-2,-1,0,1,2,3,4,5,6,7,8,9,10,11], "labelOverlap": false, "labelFlush": false}}, "x2": {"datum": 11}, "y": {"datum": -331, "type": "quantitative", "axis": {"values": [-300, -200, -100, 0, 100, 200], "labelOverlap": false}}}},
  {"data": {"values": [{}]}, "mark": {"type": "rule", "color": "#000000", "strokeDash": [8, 4], "strokeWidth": 1.4}, "encoding": {"x": {"datum": -1.5, "type": "quantitative", "axis": {"values": [-11,-10,-9,-8,-7,-6,-5,-4,-3,-2,-1,0,1,2,3,4,5,6,7,8,9,10,11], "labelOverlap": false, "labelFlush": false}}, "y": {"datum": 228, "type": "quantitative", "axis": {"values": [-300, -200, -100, 0, 100, 200], "labelOverlap": false}}, "y2": {"datum": -331}}},
  {"data": {"name": "d"}, "transform": [{"filter": "datum.p==4 && datum.s=='A' && isValid(datum.lo)"}], "mark": {"type": "rule", "color": "#b0b0b0", "strokeWidth": 1.5, "xOffset": -2.8}, "encoding": {"x": {"field": "t", "type": "quantitative", "axis": {"values": [-11,-10,-9,-8,-7,-6,-5,-4,-3,-2,-1,0,1,2,3,4,5,6,7,8,9,10,11], "labelOverlap": false, "labelFlush": false}}, "y": {"field": "lo", "type": "quantitative", "axis": {"values": [-300, -200, -100, 0, 100, 200], "labelOverlap": false}}, "y2": {"field": "hi"}}},
  {"data": {"name": "d"}, "transform": [{"filter": "datum.p==4 && datum.s=='A' && isValid(datum.lo)"}], "mark": {"type": "tick", "orient": "horizontal", "size": 8, "thickness": 1.5, "color": "#b0b0b0", "opacity": 1, "xOffset": -2.8}, "encoding": {"x": {"field": "t", "type": "quantitative", "axis": {"values": [-11,-10,-9,-8,-7,-6,-5,-4,-3,-2,-1,0,1,2,3,4,5,6,7,8,9,10,11], "labelOverlap": false, "labelFlush": false}}, "y": {"field": "lo", "type": "quantitative", "axis": {"values": [-300, -200, -100, 0, 100, 200], "labelOverlap": false}}}},
  {"data": {"name": "d"}, "transform": [{"filter": "datum.p==4 && datum.s=='A' && isValid(datum.lo)"}], "mark": {"type": "tick", "orient": "horizontal", "size": 8, "thickness": 1.5, "color": "#b0b0b0", "opacity": 1, "xOffset": -2.8}, "encoding": {"x": {"field": "t", "type": "quantitative", "axis": {"values": [-11,-10,-9,-8,-7,-6,-5,-4,-3,-2,-1,0,1,2,3,4,5,6,7,8,9,10,11], "labelOverlap": false, "labelFlush": false}}, "y": {"field": "hi", "type": "quantitative", "axis": {"values": [-300, -200, -100, 0, 100, 200], "labelOverlap": false}}}},
  {"data": {"name": "d"}, "transform": [{"filter": "datum.p==4 && datum.s=='A'"}], "mark": {"type": "line", "color": "#a0a0a0", "strokeDash": [1, 3], "strokeWidth": 1.5, "xOffset": -2.8}, "encoding": {"x": {"field": "t", "type": "quantitative", "axis": {"values": [-11,-10,-9,-8,-7,-6,-5,-4,-3,-2,-1,0,1,2,3,4,5,6,7,8,9,10,11], "labelOverlap": false, "labelFlush": false}}, "y": {"field": "e", "type": "quantitative", "axis": {"values": [-300, -200, -100, 0, 100, 200], "labelOverlap": false}}}},
  {"data": {"name": "d"}, "transform": [{"filter": "datum.p==4 && datum.s=='A'"}], "mark": {"type": "point", "shape": "triangle-up", "filled": true, "size": 110, "opacity": 1, "color": "#a0a0a0", "xOffset": -2.8}, "encoding": {"x": {"field": "t", "type": "quantitative", "axis": {"values": [-11,-10,-9,-8,-7,-6,-5,-4,-3,-2,-1,0,1,2,3,4,5,6,7,8,9,10,11], "labelOverlap": false, "labelFlush": false}}, "y": {"field": "e", "type": "quantitative", "axis": {"values": [-300, -200, -100, 0, 100, 200], "labelOverlap": false}}}},
  {"data": {"name": "d"}, "transform": [{"filter": "datum.p==4 && datum.s=='B' && isValid(datum.lo)"}], "mark": {"type": "rule", "color": "#5e5e5e", "strokeWidth": 1.5, "xOffset": 2.8}, "encoding": {"x": {"field": "t", "type": "quantitative", "axis": {"values": [-11,-10,-9,-8,-7,-6,-5,-4,-3,-2,-1,0,1,2,3,4,5,6,7,8,9,10,11], "labelOverlap": false, "labelFlush": false}}, "y": {"field": "lo", "type": "quantitative", "axis": {"values": [-300, -200, -100, 0, 100, 200], "labelOverlap": false}}, "y2": {"field": "hi"}}},
  {"data": {"name": "d"}, "transform": [{"filter": "datum.p==4 && datum.s=='B' && isValid(datum.lo)"}], "mark": {"type": "tick", "orient": "horizontal", "size": 8, "thickness": 1.5, "color": "#5e5e5e", "opacity": 1, "xOffset": 2.8}, "encoding": {"x": {"field": "t", "type": "quantitative", "axis": {"values": [-11,-10,-9,-8,-7,-6,-5,-4,-3,-2,-1,0,1,2,3,4,5,6,7,8,9,10,11], "labelOverlap": false, "labelFlush": false}}, "y": {"field": "lo", "type": "quantitative", "axis": {"values": [-300, -200, -100, 0, 100, 200], "labelOverlap": false}}}},
  {"data": {"name": "d"}, "transform": [{"filter": "datum.p==4 && datum.s=='B' && isValid(datum.lo)"}], "mark": {"type": "tick", "orient": "horizontal", "size": 8, "thickness": 1.5, "color": "#5e5e5e", "opacity": 1, "xOffset": 2.8}, "encoding": {"x": {"field": "t", "type": "quantitative", "axis": {"values": [-11,-10,-9,-8,-7,-6,-5,-4,-3,-2,-1,0,1,2,3,4,5,6,7,8,9,10,11], "labelOverlap": false, "labelFlush": false}}, "y": {"field": "hi", "type": "quantitative", "axis": {"values": [-300, -200, -100, 0, 100, 200], "labelOverlap": false}}}},
  {"data": {"name": "d"}, "transform": [{"filter": "datum.p==4 && datum.s=='B'"}], "mark": {"type": "line", "color": "#5a5a5a", "strokeWidth": 1.4, "xOffset": 2.8}, "encoding": {"x": {"field": "t", "type": "quantitative", "axis": {"values": [-11,-10,-9,-8,-7,-6,-5,-4,-3,-2,-1,0,1,2,3,4,5,6,7,8,9,10,11], "labelOverlap": false, "labelFlush": false}}, "y": {"field": "e", "type": "quantitative", "axis": {"values": [-300, -200, -100, 0, 100, 200], "labelOverlap": false}}}},
  {"data": {"name": "d"}, "transform": [{"filter": "datum.p==4 && datum.s=='B'"}], "mark": {"type": "point", "shape": "circle", "filled": true, "size": 100, "opacity": 1, "color": "#5a5a5a", "xOffset": 2.8}, "encoding": {"x": {"field": "t", "type": "quantitative", "axis": {"values": [-11,-10,-9,-8,-7,-6,-5,-4,-3,-2,-1,0,1,2,3,4,5,6,7,8,9,10,11], "labelOverlap": false, "labelFlush": false}}, "y": {"field": "e", "type": "quantitative", "axis": {"values": [-300, -200, -100, 0, 100, 200], "labelOverlap": false}}}}
 ]}
]
}
